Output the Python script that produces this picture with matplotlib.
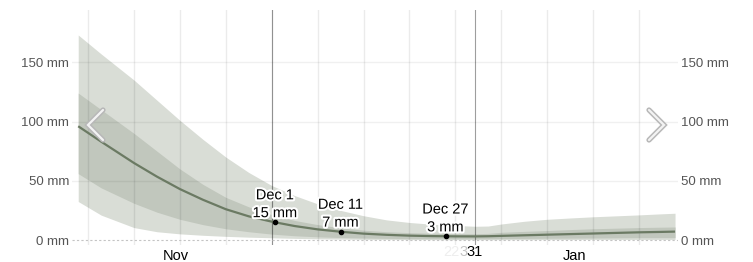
import matplotlib
matplotlib.use("Agg")
import matplotlib.pyplot as plt
import matplotlib.patheffects as pe
from matplotlib.lines import Line2D
import matplotlib.transforms as mtransforms

plt.rcParams['font.family'] = ['Liberation Sans', 'DejaVu Sans']

# ---- data (x = days since Nov 1, 00:00) ----
days = [0.5, 4, 9, 12.5, 16, 19.5, 23, 26.5, 30, 33.5, 37, 40.5, 44, 47.5,
        51, 54.5, 58, 61, 63, 65, 68.5, 72, 75.5, 79, 82.5, 86, 89, 91.5]
median = [96, 83, 65, 53.5, 43, 34, 26, 20, 15.5, 11.8, 9, 7, 5.4, 4.4,
          3.7, 3.3, 3.1, 3.05, 3.2, 3.5, 4, 4.5, 5, 5.5, 6, 6.5, 6.8, 7.1]
p90 = [173, 157, 135, 118, 101, 85, 70, 57, 46, 37.5, 30.5, 25, 20.5, 17,
       14.8, 13.3, 12.3, 11.6, 11.8, 13.5, 15.8, 17.5, 18.6, 19.6, 20.4, 21.2, 22, 22.6]
p75 = [124, 110, 90, 75, 60, 47, 36, 28, 21.5, 16.5, 13, 10.3, 8.3, 7,
       6.2, 5.7, 5.4, 5.3, 5.6, 6.5, 7.3, 8, 8.8, 9.5, 10, 10.5, 10.8, 11]
p25 = [56, 44, 31, 23.5, 17.5, 13, 9.5, 7, 5, 3.6, 2.7, 2.1, 1.7, 1.4,
       1.2, 1.1, 1, 1, 1.05, 1.2, 1.35, 1.5, 1.6, 1.7, 1.85, 2, 2, 2]
p10 = [32.5, 21, 10.5, 7, 5.2, 4, 3.1, 2.4, 1.9, 1.4, 1, 0.8, 0.6, 0.5,
       0.4, 0.35, 0.3, 0.3, 0.3, 0.3, 0.35, 0.4, 0.45, 0.5, 0.5, 0.5, 0.5, 0.5]

# highlighted points
point_days = [30.5, 40.5, 56.5]
point_vals = [15, 7, 3]
point_labels = ["Dec 1\n15 mm", "Dec 11\n7 mm", "Dec 27\n3 mm"]

# axis ticks / grid
yticks = [0, 50, 100, 150]
ytick_labels = ["0 mm", "50 mm", "100 mm", "150 mm"]
week_lines = [2, 9, 16, 23, 30, 37, 44, 51, 58, 65, 72, 79, 86]
month_lines = [30, 61]
month_label_pos = [15.4, 76.2]
month_labels = ["Nov", "Jan"]

# ---- figure ----
W, H = 753, 262
fig = plt.figure(figsize=(W / 100, H / 100), dpi=100)
fig.patch.set_facecolor('white')
ax = fig.add_axes([72 / W, 17 / H, 606 / W, 235 / H])
ax.set_xlim(-0.45, 91.95)
ax.set_ylim(-4.2, 194.1)
for s in ax.spines.values():
    s.set_visible(False)

outer_c = '#d9ddd6'
inner_c = '#c1c7bd'
line_c = '#6b7a63'

ax.fill_between(days, p10, p90, color=outer_c, lw=0, zorder=1)
ax.fill_between(days, p25, p75, color=inner_c, lw=0, zorder=2)

# grid lines
for d in week_lines:
    ax.axvline(d, color='black', alpha=0.08, lw=1.0, zorder=3)
for d in month_lines:
    ax.axvline(d, color='black', alpha=0.38, lw=0.8, zorder=3)
for v in yticks[1:]:
    ax.axhline(v, color='black', alpha=0.06, lw=1.0, zorder=3)
ax.axhline(0, color='#c4c4c4', lw=0.8, ls=(0, (2, 2)), zorder=3)

ax.plot(days, median, color=line_c, lw=1.6, zorder=4,
        solid_capstyle='butt', solid_joinstyle='round')

# y tick labels both sides
ax.set_yticks(yticks)
ax.set_yticklabels(ytick_labels)
ax.tick_params(axis='y', length=0, labelsize=9.5, labelcolor='#555555',
               labelleft=True, labelright=True, left=False, right=False, pad=2)

# x labels
ax.set_xticks(month_label_pos)
ax.set_xticklabels(month_labels)
ax.tick_params(axis='x', length=0, labelsize=10.5, labelcolor='black', pad=3)

# overlapped day labels near Jan 1
trans = mtransforms.blended_transform_factory(ax.transData, ax.transAxes)
ax.text(61, -0.03, "31", transform=trans, ha='center', va='center',
        fontsize=10.5, color='black')
ax.text(59.9, -0.03, "3", transform=trans, ha='right', va='center',
        fontsize=10.5, color='#c4c4c4')
ax.text(58.7, -0.03, "22", transform=trans, ha='right', va='center',
        fontsize=10.5, color='#eeeeee')

# highlighted points with labels
ax.plot(point_days, point_vals, 'o', color='black', ms=3, zorder=6)
for d, v, lab in zip(point_days, point_vals, point_labels):
    ax.annotate(lab, (d, v), xytext=(0, 1.5), textcoords='offset points',
                ha='center', va='bottom', fontsize=10.5, color='black',
                linespacing=1.35, zorder=5,
                path_effects=[pe.withStroke(linewidth=3, foreground='white')])

# navigation chevrons (decoration, in pixel coords)
def chevron(xs, ys):
    xs_f = [x / W for x in xs]
    ys_f = [1 - y / H for y in ys]
    fig.add_artist(Line2D(xs_f, ys_f, transform=fig.transFigure, color='#b8b8b8',
                          lw=3.8, solid_joinstyle='miter', solid_capstyle='round', zorder=10))
    fig.add_artist(Line2D(xs_f, ys_f, transform=fig.transFigure, color='#f3f3f3',
                          lw=1.6, solid_joinstyle='miter', solid_capstyle='round', zorder=11))

chevron([103, 88, 103], [110, 125, 140])
chevron([649, 664, 649], [110, 125, 140])

fig.savefig('out.png', dpi=100, facecolor='white')
